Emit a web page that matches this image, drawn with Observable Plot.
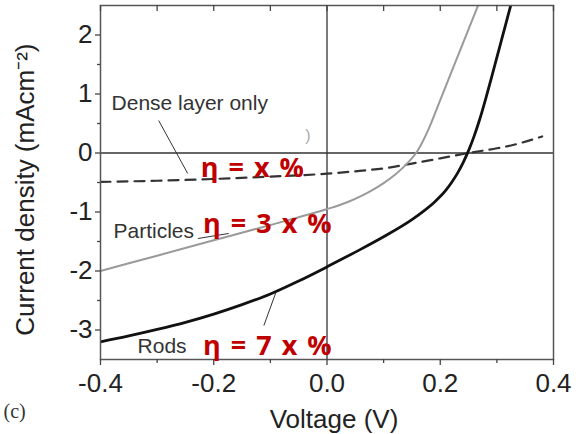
<!DOCTYPE html>
<html><head><meta charset="utf-8">
<script src="https://cdn.jsdelivr.net/npm/d3@7"></script>
<script src="https://cdn.jsdelivr.net/npm/@observablehq/plot@0.6"></script>
<style>body{margin:0;background:#fff}</style>
</head><body><div id="chart"></div>
<script>
// Series (Voltage in V, current density in mA cm^-2)
const denseV = [-0.4,-0.3,-0.2,-0.1,0,0.05,0.1,0.15,0.2,0.25,0.3,0.33,0.38];
const denseJ = [-0.49,-0.47,-0.44,-0.40,-0.35,-0.31,-0.26,-0.18,-0.09,0.0,0.08,0.14,0.28];
const particlesV = [-0.4,-0.3,-0.2,-0.1,0,0.02,0.04,0.06,0.08,0.1,0.12,0.14,0.16,0.18,0.2,0.22,0.24,0.26,0.28];
const particlesJ = [-2.0,-1.74,-1.48,-1.22,-0.95,-0.89,-0.818,-0.732,-0.63,-0.51,-0.368,-0.192,0.038,0.418,0.898,1.378,1.858,2.338,2.818];
const rodsV = [-0.4,-0.35,-0.3,-0.25,-0.2,-0.15,-0.1,-0.05,0,0.05,0.1,0.15,0.17,0.19,0.21,0.22,0.23,0.24,0.25,0.26,0.27,0.28,0.29,0.3,0.31,0.32,0.33];
const rodsJ = [-3.2,-3.1,-2.99,-2.87,-2.73,-2.57,-2.39,-2.17,-1.93,-1.68,-1.42,-1.13,-0.99,-0.83,-0.63,-0.5,-0.35,-0.17,0.04,0.29,0.58,0.91,1.26,1.62,1.98,2.34,2.7];

const xMajor = [-0.4,-0.2,0,0.2,0.4];
const xMinor = [-0.3,-0.1,0.1,0.3];
const yMajor = [-3,-2,-1,0,1,2];
const yMinor = [-2.5,-1.5,-0.5,0.5,1.5];

const seriesLabels = [
  {text:"Dense layer only", x:-0.3805, y:0.847},
  {text:"Particles", x:-0.377, y:-1.322},
  {text:"Rods", x:-0.3345, y:-3.271}
];
const effLabels = [
  {text:"η = x %", x:-0.223, y:-0.263},
  {text:"η = 3 x %", x:-0.219, y:-1.205},
  {text:"η = 7 x %", x:-0.219, y:-3.273}
];
const pointers = [
  {x1:-0.2973, y1:0.551, x2:-0.246, y2:-0.347},
  {x1:-0.228, y1:-1.449, x2:-0.1735, y2:-1.364},
  {x1:-0.1115, y1:-2.924, x2:-0.0903, y2:-2.364}
];
const axisTitles = [
  {text:"Voltage (V)", x:0.0124, y:-4.517, rotate:0},
  {text:"Current density (mAcm⁻²)", x:-0.5327, y:-0.62, rotate:-90}
];

const dense = denseV.map((v,i)=>({v, j:denseJ[i]}));
const particles = particlesV.map((v,i)=>({v, j:particlesJ[i]}));
const rods = rodsV.map((v,i)=>({v, j:rodsJ[i]}));

const W = 578, H = 434, mL = 100, mR = 25, mT = 5, mB = 75;
const plotH = H - mT - mB;
const fmt = d => d.toFixed(1);
const fmtY = d => String(d);

const chart = Plot.plot({
  width: W, height: H,
  marginLeft: mL, marginRight: mR, marginTop: mT, marginBottom: mB,
  style: {fontFamily: "Liberation Sans, Arial, sans-serif", background: "#fff", overflow: "visible"},
  x: {domain: [-0.4, 0.4]},
  y: {domain: [-3.5, 2.5]},
  marks: [
    Plot.ruleY([0], {stroke: "#333", strokeWidth: 1.3}),
    Plot.ruleX([0], {stroke: "#333", strokeWidth: 1.3}),
    Plot.line(dense, {x: "v", y: "j", stroke: "#333", strokeWidth: 2.2, strokeDasharray: "10,7", curve: "monotone-x", clip: true}),
    Plot.line(particles, {x: "v", y: "j", stroke: "#9a9a9a", strokeWidth: 2, curve: "monotone-x", clip: true}),
    Plot.line(rods, {x: "v", y: "j", stroke: "#111", strokeWidth: 2.8, curve: "monotone-x", clip: true}),
    Plot.link(pointers, {x1: "x1", y1: "y1", x2: "x2", y2: "y2", stroke: "#333", strokeWidth: 1}),
    Plot.frame({stroke: "#555", strokeWidth: 1.5}),
    Plot.axisX({ticks: xMajor, tickFormat: fmt, tickSize: 6, tickPadding: 8, fontSize: 26, label: null, stroke: "#444", strokeWidth: 1.3, fill: "#222"}),
    Plot.axisX({ticks: xMinor, tickSize: 4, text: null, label: null, stroke: "#444", strokeWidth: 1.3}),
    Plot.axisY({ticks: yMajor, tickFormat: fmtY, tickSize: 5, tickPadding: 3, fontSize: 26, label: null, stroke: "#444", strokeWidth: 1.3, fill: "#222"}),
    Plot.axisY({ticks: yMinor, tickSize: 3, text: null, label: null, stroke: "#444", strokeWidth: 1.3}),
    Plot.tickX(xMajor.concat(xMinor), {x: d => d, insetBottom: plotH - 6, stroke: "#444", strokeWidth: 1.3}),
    Plot.text(seriesLabels, {x: "x", y: "y", text: "text", textAnchor: "start", lineAnchor: "middle", fontSize: 21, fill: "#333"}),
    Plot.text([")"], {x: -0.0336, y: 0.297, text: d => d, fontSize: 16, fill: "#aaa"}),
    Plot.text(effLabels, {x: "x", y: "y", text: "text", textAnchor: "start", lineAnchor: "middle", fontSize: 27, fontWeight: "bold", fontFamily: "Open Sans, sans-serif", fill: "#c00000", className: "eff"}),
    Plot.text(axisTitles, {x: "x", y: "y", text: "text", rotate: "rotate", fontSize: 26, lineAnchor: "middle", fill: "#222", clip: false}),
    Plot.text(["(c)"], {frameAnchor: "bottom-left", textAnchor: "start", dx: -97, dy: 52, lineAnchor: "middle", fontSize: 20, fontFamily: "Liberation Serif, serif", fill: "#333"})
  ]
});
d3.select(chart).selectAll(".eff text").attr("letter-spacing", "1.5px");
document.getElementById("chart").appendChild(chart);
</script>
</body></html>
